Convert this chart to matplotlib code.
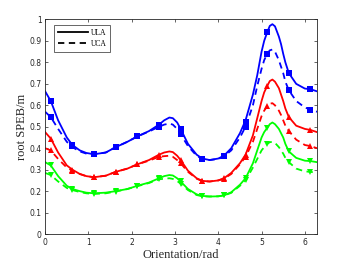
import matplotlib
matplotlib.use("Agg")
import matplotlib.pyplot as plt

# theory curves
x_line = [0.0, 0.13, 0.3, 0.5, 0.63, 0.8, 0.95, 1.13, 1.4, 1.63, 1.9, 2.13, 2.4, 2.63, 2.75,
          2.87, 2.95, 3.05, 3.13, 3.3, 3.5, 3.63, 3.8, 4.0, 4.13, 4.3, 4.5, 4.63, 4.8, 4.9,
          5.0, 5.06, 5.13, 5.19, 5.25, 5.31, 5.4, 5.45, 5.5, 5.55, 5.63, 5.8, 6.0, 6.13, 6.283]

ula_blue = [0.665, 0.62, 0.53, 0.45, 0.415, 0.39, 0.378, 0.372, 0.38, 0.405, 0.43, 0.455, 0.48, 0.51, 0.53,
            0.543, 0.54, 0.52, 0.49, 0.42, 0.37, 0.352, 0.345, 0.352, 0.365, 0.40, 0.47, 0.53, 0.65, 0.74,
            0.85, 0.90, 0.94, 0.97, 0.978, 0.968, 0.92, 0.885, 0.84, 0.80, 0.75, 0.70, 0.678, 0.675, 0.665]
uca_blue = [0.57, 0.545, 0.49, 0.43, 0.405, 0.385, 0.375, 0.372, 0.38, 0.405, 0.43, 0.455, 0.478, 0.50, 0.51,
            0.515, 0.51, 0.49, 0.465, 0.41, 0.365, 0.35, 0.345, 0.35, 0.362, 0.39, 0.45, 0.50, 0.60, 0.69,
            0.77, 0.81, 0.84, 0.856, 0.86, 0.85, 0.81, 0.78, 0.75, 0.71, 0.67, 0.62, 0.59, 0.58, 0.57]
ula_red = [0.475, 0.445, 0.38, 0.32, 0.30, 0.28, 0.27, 0.265, 0.272, 0.29, 0.305, 0.325, 0.345, 0.37, 0.38,
           0.385, 0.382, 0.365, 0.345, 0.295, 0.26, 0.248, 0.245, 0.25, 0.26, 0.285, 0.33, 0.37, 0.46, 0.54,
           0.62, 0.66, 0.69, 0.713, 0.72, 0.71, 0.68, 0.65, 0.62, 0.585, 0.545, 0.505, 0.49, 0.485, 0.475]
uca_red = [0.40, 0.39, 0.35, 0.31, 0.295, 0.28, 0.27, 0.265, 0.272, 0.29, 0.305, 0.325, 0.342, 0.36, 0.363,
           0.365, 0.36, 0.345, 0.33, 0.29, 0.258, 0.247, 0.245, 0.25, 0.258, 0.28, 0.325, 0.36, 0.43, 0.49,
           0.55, 0.575, 0.595, 0.607, 0.61, 0.60, 0.575, 0.555, 0.53, 0.505, 0.48, 0.44, 0.415, 0.41, 0.40]
ula_green = [0.335, 0.32, 0.27, 0.225, 0.21, 0.2, 0.193, 0.19, 0.193, 0.20, 0.21, 0.225, 0.24, 0.26, 0.27,
             0.275, 0.273, 0.26, 0.245, 0.21, 0.185, 0.178, 0.175, 0.176, 0.18, 0.195, 0.23, 0.26, 0.33, 0.39,
             0.45, 0.475, 0.495, 0.512, 0.52, 0.512, 0.49, 0.47, 0.45, 0.42, 0.385, 0.355, 0.342, 0.34, 0.335]
uca_green = [0.285, 0.275, 0.245, 0.215, 0.205, 0.196, 0.19, 0.187, 0.19, 0.198, 0.21, 0.223, 0.238, 0.255, 0.258,
             0.26, 0.257, 0.247, 0.235, 0.205, 0.182, 0.176, 0.175, 0.176, 0.18, 0.192, 0.225, 0.25, 0.31, 0.35,
             0.39, 0.405, 0.42, 0.428, 0.43, 0.425, 0.405, 0.39, 0.375, 0.355, 0.335, 0.305, 0.292, 0.29, 0.285]

# simulation points
x_mark = [0.13, 0.63, 1.13, 1.63, 2.13, 2.63, 3.13, 3.63, 4.13, 4.63, 5.13, 5.63, 6.13]
ula_blue_m = [0.62, 0.415, 0.372, 0.405, 0.455, 0.51, 0.49, 0.352, 0.365, 0.52, 0.94, 0.75, 0.675]
uca_blue_m = [0.545, 0.41, 0.372, 0.405, 0.455, 0.50, 0.465, 0.35, 0.362, 0.50, 0.84, 0.67, 0.58]
ula_red_m = [0.445, 0.30, 0.265, 0.29, 0.325, 0.37, 0.345, 0.248, 0.26, 0.37, 0.69, 0.545, 0.485]
uca_red_m = [0.39, 0.295, 0.265, 0.29, 0.325, 0.36, 0.33, 0.247, 0.258, 0.36, 0.595, 0.48, 0.41]
ula_green_m = [0.32, 0.21, 0.19, 0.20, 0.225, 0.26, 0.245, 0.178, 0.18, 0.26, 0.495, 0.385, 0.34]
uca_green_m = [0.275, 0.205, 0.187, 0.198, 0.223, 0.255, 0.235, 0.176, 0.18, 0.25, 0.42, 0.335, 0.29]

fig = plt.figure(figsize=(3.5, 2.63), dpi=100)
ax = fig.add_axes([0.129, 0.11, 0.777, 0.816])

series = [
    (ula_blue, uca_blue, ula_blue_m, uca_blue_m, (0, 0, 1), 's', 4.3),
    (ula_red, uca_red, ula_red_m, uca_red_m, (1, 0, 0), '^', 5),
    (ula_green, uca_green, ula_green_m, uca_green_m, (0, 1, 0), 'v', 5),
]
for ula, uca, ula_m, uca_m, col, mk, ms in series:
    ax.plot(x_line, ula, '-', color=col, lw=1.3)
    ax.plot(x_line, uca, '--', color=col, lw=1.3, dashes=(3.5, 2.5))
    ax.plot(x_mark, ula_m, mk, color=col, ms=ms, mew=0)
    ax.plot(x_mark, uca_m, mk, color=col, ms=ms, mew=0)

# legend handles only
h1, = ax.plot([], [], 'k-', lw=1.3, label='ULA')
h2, = ax.plot([], [], 'k--', lw=1.3, dashes=(3.5, 2.5), label='UCA')
leg = ax.legend(handles=[h1, h2], loc='upper left', bbox_to_anchor=(0.033, 0.975),
                prop={'family': 'Liberation Serif', 'size': 5.5}, fancybox=False,
                edgecolor='0.3', framealpha=1, handlelength=4, borderpad=0.5,
                labelspacing=0.45, handletextpad=0.3, borderaxespad=0)
leg.get_frame().set_linewidth(0.6)

ax.set_xlim(0, 6.283)
ax.set_ylim(0, 1)
ax.set_xticks([0, 1, 2, 3, 4, 5, 6])
ax.set_yticks([0, 0.1, 0.2, 0.3, 0.4, 0.5, 0.6, 0.7, 0.8, 0.9, 1])
ax.set_yticklabels(['0', '0.1', '0.2', '0.3', '0.4', '0.5', '0.6', '0.7', '0.8', '0.9', '1'])
ax.tick_params(direction='in', top=True, right=True, labelsize=5.5, length=2.5,
               width=0.5, colors='0.15', pad=2.5)
for s in ax.spines.values():
    s.set_linewidth(0.6)
    s.set_color('0.15')

ax.set_xlabel('Orientation/rad', family='Liberation Serif', fontsize=9, color='0.15', labelpad=2)
ax.set_ylabel('root SPEB/m', family='Liberation Serif', fontsize=9, color='0.15', labelpad=1)

fig.savefig('out.png', dpi=100)
